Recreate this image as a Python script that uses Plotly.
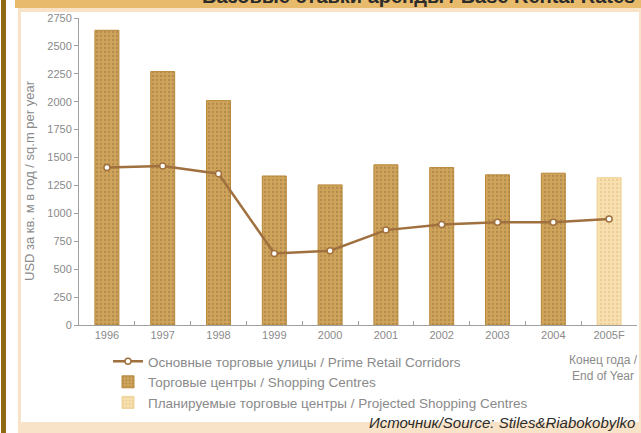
import plotly.graph_objects as go

categories = ["1996", "1997", "1998", "1999", "2000", "2001", "2002", "2003", "2004", "2005F"]
shopping_centres = [2640, 2270, 2010, 1335, 1255, 1435, 1410, 1345, 1360, None]
projected_centres = [None, None, None, None, None, None, None, None, None, 1320]
prime_retail = [1410, 1425, 1355, 640, 665, 850, 900, 920, 920, 950]
y_ticks = [0, 250, 500, 750, 1000, 1250, 1500, 1750, 2000, 2250, 2500, 2750]

W, H = 641, 433
L, R, T, B = 79, 4, 18, 108
PW, PH = W - L - R, H - T - B


def px(x):
    return (x - L) / PW


def py(y):
    return (H - B - y) / PH


GREY = "#8a8a8a"
FONT = "Liberation Sans"
NARROW = "Liberation Sans Narrow, Liberation Sans, Arial"

fig = go.Figure()

fig.add_trace(go.Bar(
    x=categories, y=shopping_centres, name="Торговые центры / Shopping Centres",
    width=0.43,
    marker=dict(color="#cfa35a", line=dict(color="#b8883a", width=1),
                pattern=dict(shape=".", fgcolor="#8f7440", size=4, solidity=0.25, fillmode="overlay")),
    legendgroup="b", legendrank=2,
))
fig.add_trace(go.Bar(
    x=categories, y=projected_centres, name="Планируемые торговые центры / Projected Shopping Centres",
    width=0.43,
    marker=dict(color="#f7e0b0", line=dict(color="#f0d29a", width=1),
                pattern=dict(shape=".", fgcolor="#e0b878", size=4, solidity=0.25, fillmode="overlay")),
    legendgroup="c", legendrank=3,
))
fig.add_trace(go.Scatter(
    x=categories, y=prime_retail, name="Основные торговые улицы / Prime Retail Corridors",
    mode="lines+markers",
    line=dict(color="#a0703f", width=2.5),
    marker=dict(symbol="circle", size=6, color="white", line=dict(color="#a0703f", width=1.5)),
    legendgroup="a", legendrank=1,
))

shapes = [
    dict(type="rect", xref="paper", yref="paper", x0=px(1), x1=px(6), y0=py(433), y1=py(0),
         fillcolor="#8f6a12", line=dict(width=0), layer="below"),
    dict(type="rect", xref="paper", yref="paper", x0=px(18), x1=px(641), y0=py(433), y1=py(8),
         fillcolor="#f8e3c8", line=dict(width=0), layer="below"),
    dict(type="rect", xref="paper", yref="paper", x0=px(15), x1=px(641), y0=py(8), y1=py(0),
         fillcolor="#e8bb6c", line=dict(width=0), layer="below"),
    dict(type="rect", xref="paper", yref="paper", x0=px(21), x1=px(639), y0=py(422), y1=py(12),
         fillcolor="white", line=dict(width=0), layer="below"),
]

annotations = [
    dict(text="<b>Базовые ставки аренды / Base Rental Rates</b>", xref="paper", yref="paper",
         x=px(637), y=py(9), xanchor="right", yanchor="bottom", showarrow=False,
         font=dict(family=FONT, size=20, color="#2b2b2b")),
    dict(text="USD за кв. м в год / sq.m per year", xref="paper", yref="paper",
         x=px(29), y=py(181), xanchor="center", yanchor="middle", textangle=-90, showarrow=False,
         font=dict(family=NARROW, size=13, color=GREY)),
    dict(text="Конец года /<br>End of Year", xref="paper", yref="paper",
         x=px(640), y=py(351), xanchor="right", yanchor="top", showarrow=False, align="center",
         font=dict(family=NARROW, size=12, color=GREY)),
    dict(text="<i>Источник/Source: Stiles&Riabokobylko</i>", xref="paper", yref="paper",
         x=px(637), y=py(422), xanchor="right", yanchor="middle", showarrow=False,
         font=dict(family=NARROW, size=15, color="#2b2b2b")),
]

fig.update_layout(
    width=W, height=H,
    margin=dict(l=L, r=R, t=T, b=B, pad=0),
    paper_bgcolor="white", plot_bgcolor="rgba(0,0,0,0)",
    barmode="overlay",
    shapes=shapes, annotations=annotations,
    showlegend=True,
    legend=dict(x=px(108), y=py(346), xanchor="left", yanchor="top", orientation="v",
                traceorder="grouped", tracegroupgap=0, bgcolor="rgba(0,0,0,0)",
                font=dict(family=FONT, size=13.5, color=GREY), itemwidth=30),
    font=dict(family=FONT),
)
fig.update_xaxes(
    type="category", range=[-0.5, 9.5], showline=True, linecolor="#a0a0a0", linewidth=1,
    ticks="inside", ticklen=4, tickcolor="#a0a0a0", tickson="boundaries",
    tickfont=dict(family=NARROW, size=11, color=GREY), showgrid=False, zeroline=False,
)
fig.update_yaxes(
    range=[0, 2750], tickvals=y_ticks, showline=True, linecolor="#a0a0a0", linewidth=1,
    ticks="outside", ticklen=4, tickcolor="#a0a0a0",
    tickfont=dict(family=NARROW, size=11, color=GREY), showgrid=False, zeroline=False,
)

fig.write_html("out.html")
